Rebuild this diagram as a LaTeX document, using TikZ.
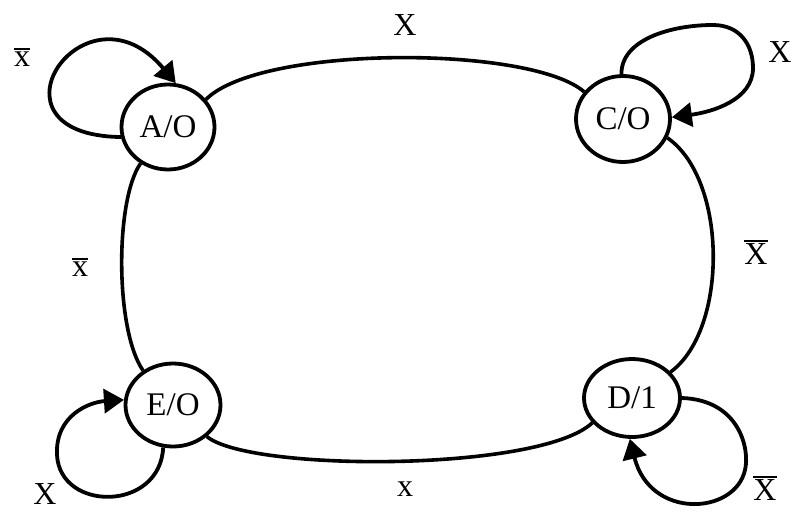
\documentclass[tikz,border=0pt]{standalone}
\usepackage{fontspec}
\setmainfont{Liberation Serif}
\usetikzlibrary{shapes.geometric,arrows.meta}
\newcommand{\ovl}[1]{\leavevmode\vbox{\hrule height 2.4pt\kern1.2pt\hbox{#1}}}
\begin{document}
\begin{tikzpicture}[x=1pt,y=-1pt,
  state/.style={draw,ellipse,line width=3.8pt,inner sep=0pt,font=\fontsize{33}{36}\selectfont},
  edge/.style={line width=3.6pt},
  loopedge/.style={line width=3.8pt,-{Triangle[length=20pt,width=24pt]}},
  lbl/.style={inner sep=0pt,font=\fontsize{32}{36}\selectfont}]
\useasboundingbox (0,0) rectangle (793,514);
\node[state,minimum width=93pt,minimum height=85pt] (A) at (168,127) {A/O};
\node[state,minimum width=94pt,minimum height=86pt] (C) at (623,119) {C/O};
\node[state,minimum width=95pt,minimum height=83pt] (E) at (173,405) {E/O};
\node[state,minimum width=96pt,minimum height=78pt] (D) at (632,398) {D/1};
% edges between states
\draw[edge] (A.36) .. controls (260,45) and (530,45) .. (C.145);
\draw[edge] (A.233) .. controls (115,200) and (115,330) .. (E.131);
\draw[edge] (C.337) .. controls (728,180) and (728,330) .. (D.34);
\draw[edge] (E.317) .. controls (250,472) and (540,472) .. (D.212);
% self loops
\draw[loopedge] (A.192) .. controls (-25,135) and (85,-25) .. (A.80);
\draw[loopedge] (C.92) .. controls (621,40) and (670,25) .. (713,25) .. controls (740,25) and (753,45) .. (753,68) .. controls (753,100) and (712,112) .. (C.2);
\draw[loopedge] (E.257) .. controls (160,512) and (60,512) .. (57,455) .. controls (55,415) and (90,402) .. (E.174);
\draw[loopedge] (D.0) .. controls (740,400) and (750,450) .. (745,470) .. controls (735,515) and (650,520) .. (D.267);
% labels
\node[lbl] (lAC) at (405,25) {X};
\node[lbl] (lCC) at (780,52) {X};
\node[lbl] (lAA) at (22,57) {\ovl{x}};
\node[lbl] (lAE) at (80,267) {\ovl{x}};
\node[lbl] (lCD) at (756,252) {\ovl{X}};
\node[lbl] (lEE) at (45,494) {X};
\node[lbl] (lED) at (405,489) {x};
\node[lbl] (lDD) at (765,488) {\ovl{X}};
\end{tikzpicture}
\end{document}
